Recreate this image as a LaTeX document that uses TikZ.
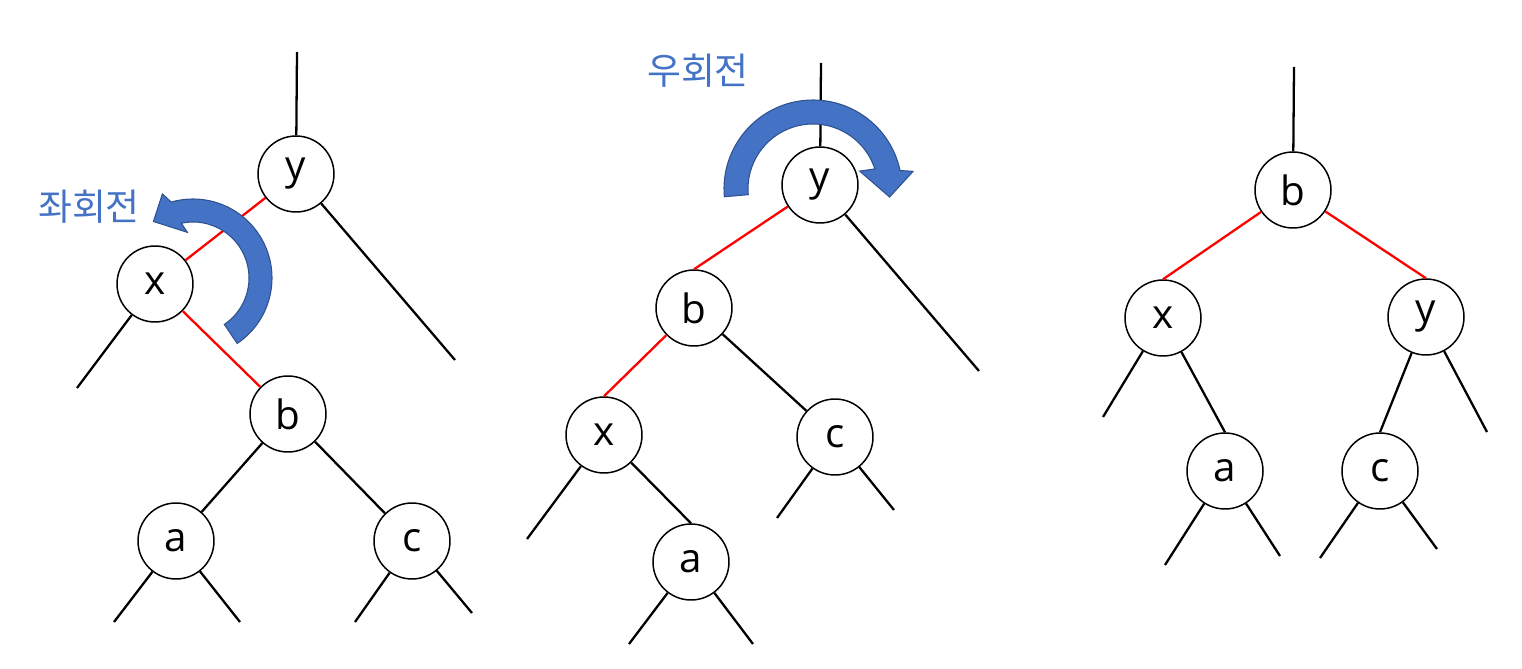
\documentclass[tikz,border=0pt]{standalone}
\usepackage{fontspec}
\setmainfont{Open Sans}
\newfontfamily\kofont{Noto Sans CJK KR}
\definecolor{rotblue}{HTML}{4472C4}
\definecolor{rotedge}{HTML}{2F528F}
\begin{document}
\begin{tikzpicture}[x=0.02cm,y=-0.02cm,
    knot/.style={draw,circle,minimum size=1.52cm,inner sep=0pt,line width=0.85pt,
      font=\fontsize{23}{23}\selectfont},
    blk/.style={line width=1.3pt},
    redl/.style={red,line width=1.3pt},
    rot/.style={fill=rotblue,draw=rotedge,line width=0.6pt},
    rotlabel/.style={text=rotblue,font=\kofont\fontsize{21}{21}\selectfont}]
        \useasboundingbox (0,0) rectangle (1522,669);
        % before the left rotation
        \node [knot] (y1) at (296,174) {y};
        \node [knot] (x1) at (155,284) {x};
        \node [knot] (b1) at (288,414) {b};
        \node [knot] (a1) at (176,541) {a};
        \node [knot] (c1) at (412,541) {c};
        \coordinate (t1) at (297,52);
        \coordinate (r1) at (455,360);
        \coordinate (l1) at (77,388);
        \coordinate (a1l) at (114,622);
        \coordinate (a1r) at (240,622);
        \coordinate (c1l) at (355,622);
        \coordinate (c1r) at (472,613);
        \draw [blk] (t1) -- (y1);
        \draw [blk] (y1) -- (r1);
        \draw [blk] (x1) -- (l1);
        \draw [redl] (y1) -- (x1);
        \draw [redl] (x1) -- (b1);
        \draw [blk] (b1) -- (a1);
        \draw [blk] (b1) -- (c1);
        \draw [blk] (a1) -- (a1l);
        \draw [blk] (a1) -- (a1r);
        \draw [blk] (c1) -- (c1l);
        \draw [blk] (c1) -- (c1r);
        % after it, before the right rotation
        \node [knot] (y2) at (820,185) {y};
        \node [knot] (b2) at (694,308) {b};
        \node [knot] (x2) at (604,435) {x};
        \node [knot] (c2) at (835,437) {c};
        \node [knot] (a2) at (691,562) {a};
        \coordinate (t2) at (821,63);
        \coordinate (r2) at (979,371);
        \coordinate (l2) at (527,539);
        \coordinate (c2l) at (777,518);
        \coordinate (c2r) at (894,510);
        \coordinate (a2l) at (629,644);
        \coordinate (a2r) at (753,644);
        \draw [blk] (t2) -- (y2);
        \draw [blk] (y2) -- (r2);
        \draw [redl] (y2) -- (b2.north);
        \draw [redl] (b2) -- (x2.north);
        \draw [blk] (b2) -- (c2);
        \draw [blk] (x2) -- (a2.north);
        \draw [blk] (x2) -- (l2);
        \draw [blk] (c2) -- (c2l);
        \draw [blk] (c2) -- (c2r);
        \draw [blk] (a2) -- (a2l);
        \draw [blk] (a2) -- (a2r);
        % result
        \node [knot] (b3) at (1293,190) {b};
        \node [knot] (x3) at (1163,318) {x};
        \node [knot] (y3) at (1426,317) {y};
        \node [knot] (a3) at (1225,471) {a};
        \node [knot] (c3) at (1380,471) {c};
        \coordinate (t3) at (1294,67);
        \coordinate (l3) at (1103,417);
        \coordinate (r3) at (1487,432);
        \coordinate (a3l) at (1165,565);
        \coordinate (a3r) at (1280,556);
        \coordinate (c3l) at (1320,558);
        \coordinate (c3r) at (1437,549);
        \draw [blk] (t3) -- (b3);
        \draw [redl] (b3) -- (x3.north);
        \draw [redl] (b3) -- (y3.north);
        \draw [blk] (x3) -- (l3);
        \draw [blk] (x3) -- (a3.north);
        \draw [blk] (y3) -- (c3.north);
        \draw [blk] (y3) -- (r3);
        \draw [blk] (a3) -- (a3l);
        \draw [blk] (a3) -- (a3r);
        \draw [blk] (c3) -- (c3l);
        \draw [blk] (c3) -- (c3r);
        % rotation arrows
        \begin{scope}[shift={(193,278)},y=0.02cm]
          \draw [rot] (-56:56) -- (-56:79) arc [start angle=-56, end angle=106, radius=79]
            -- (110:89.5) -- (125:69) -- (97:46) -- (102:56)
            arc [start angle=102, end angle=-56, radius=56] -- cycle;
        \end{scope}
        \begin{scope}[shift={(813,189)},y=0.02cm]
          \draw [rot] (185:65) -- (185:89) arc [start angle=185, end angle=12, radius=89]
            -- (10:101.6) -- (-6:77) -- (21:50) -- (18:65)
            arc [start angle=18, end angle=185, radius=65] -- cycle;
        \end{scope}
        \node [rotlabel] (left) at (89,207) {좌회전};
        \node [rotlabel] (right) at (698,71) {우회전};
\end{tikzpicture}
\end{document}
